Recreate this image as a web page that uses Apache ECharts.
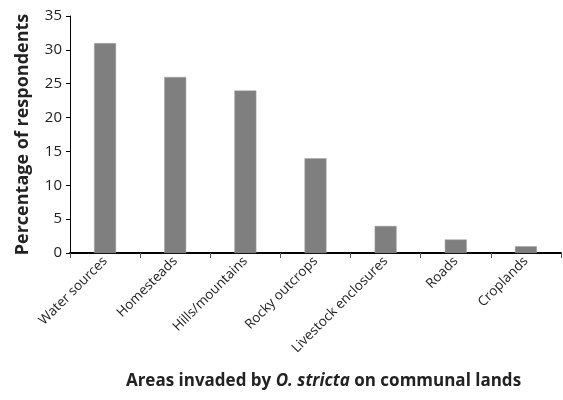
<!DOCTYPE html>
<html><head><meta charset="utf-8">
<script src="https://cdn.jsdelivr.net/npm/echarts@6/dist/echarts.min.js"></script>
<style>html,body{margin:0;padding:0;background:#fff}#c{width:563px;height:400px}</style>
</head><body><div id="c"></div>
<script>
const categories = ['Water sources','Homesteads','Hills/mountains','Rocky outcrops','Livestock enclosures','Roads','Croplands'];
const values = [31, 26, 24, 14, 4, 2, 1];
const yTicks = [0, 5, 10, 15, 20, 25, 30, 35];

const font = 'Open Sans, Noto Sans, sans-serif';
const chart = echarts.init(document.getElementById('c'));
chart.setOption({
  animation: false,
  grid: { left: 70, right: 2, top: 16, bottom: 147, containLabel: false },
  xAxis: {
    type: 'category',
    data: categories,
    boundaryGap: true,
    axisLine: { lineStyle: { color: '#000', width: 2 } },
    axisTick: { show: true, length: 5, lineStyle: { color: '#555' } },
    axisLabel: { rotate: 45, fontSize: 13.5, color: '#222', fontFamily: font, margin: 6, interval: 0 },
    name: '{b|Areas invaded by }{i|O. stricta}{b| on communal lands}',
    nameLocation: 'middle',
    nameGap: 120,
    nameTextStyle: {
      padding: [0, 0, 0, 16],
      rich: {
        b: { fontSize: 17, fontWeight: 'bold', color: '#222', fontFamily: font },
        i: { fontSize: 17, fontWeight: 'bold', fontStyle: 'italic', color: '#222', fontFamily: font }
      }
    }
  },
  yAxis: {
    type: 'value',
    min: yTicks[0], max: yTicks[yTicks.length - 1], interval: 5,
    axisLine: { show: true, lineStyle: { color: '#000', width: 1 } },
    axisTick: { show: true, length: 4, lineStyle: { color: '#000' } },
    splitLine: { show: false },
    axisLabel: { fontSize: 15, color: '#222', fontFamily: font, margin: 8 },
    name: 'Percentage of respondents',
    nameLocation: 'middle',
    nameGap: 38,
    nameTextStyle: { fontSize: 18, fontWeight: 'bold', color: '#222', fontFamily: font }
  },
  series: [{
    type: 'bar',
    data: values,
    barWidth: 22,
    itemStyle: { color: '#7f7f7f', borderColor: '#a6a6a6', borderWidth: 0.5 }
  }]
});
</script></body></html>
